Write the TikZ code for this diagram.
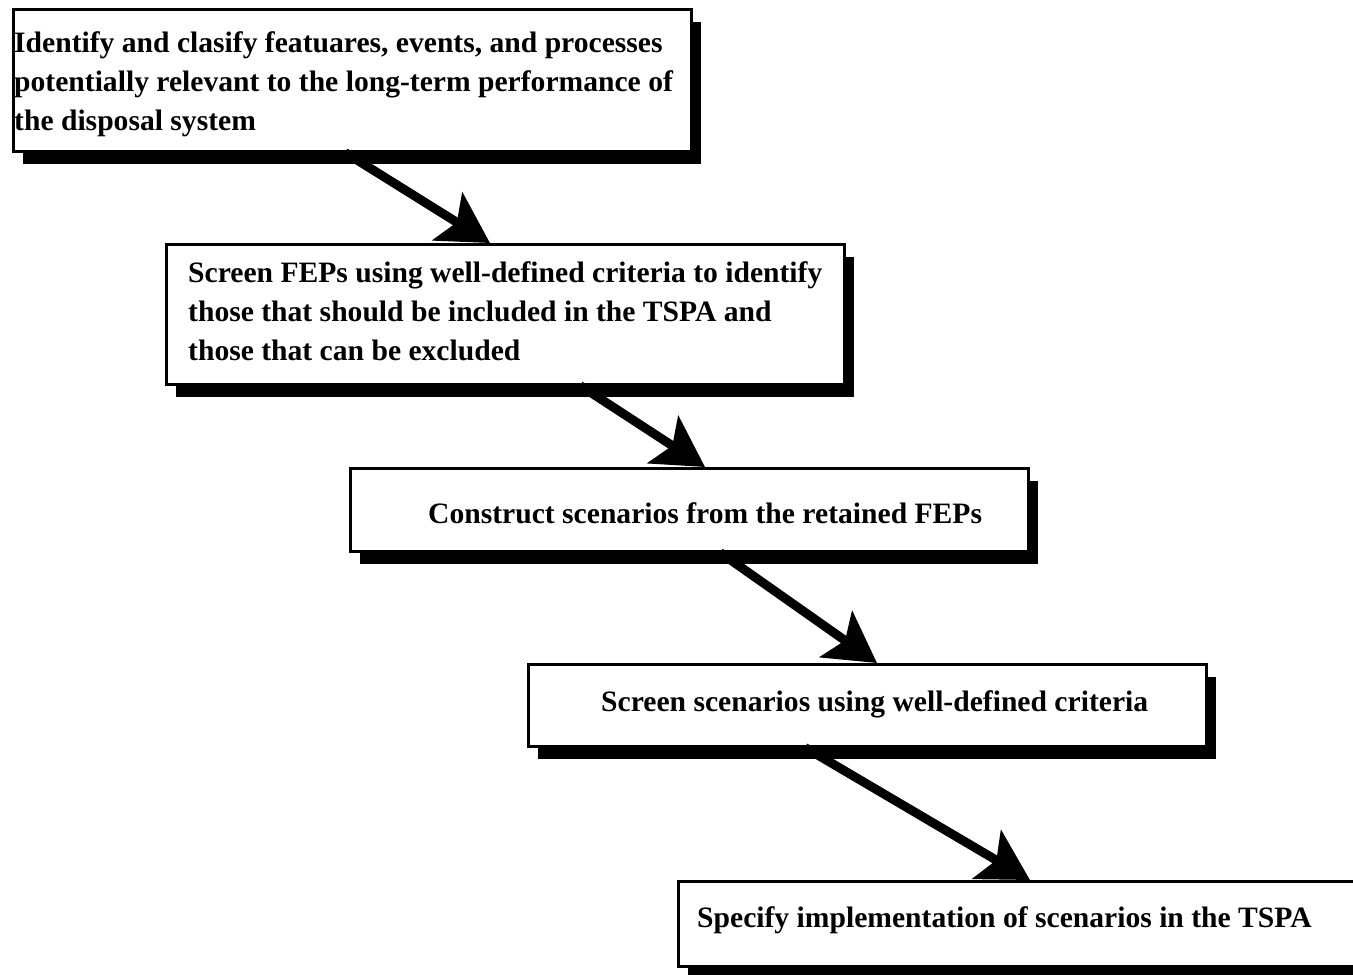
\documentclass[tikz,border=0pt]{standalone}
\usepackage{fontspec}
\setmainfont{Liberation Serif}
\usetikzlibrary{shadows,arrows.meta,calc}
\begin{document}
\begin{tikzpicture}[x=1pt,y=-1pt,
  box/.style={draw=black, line width=2.5pt, fill=white, minimum width=678pt, anchor=north west, inner sep=0pt,
    drop shadow={shadow xshift=10pt, shadow yshift=-13pt, opacity=1, fill=black}},
  lbl/.style={anchor=west, align=left, inner sep=0pt, font=\fontsize{29.6}{39}\selectfont\bfseries},
  flow/.style={line width=9pt, -{Stealth[length=50pt,width=56pt,inset=11pt]}}]
\useasboundingbox (0,0) rectangle (1353,975);
\clip (0,0) rectangle (1353,975);
\node[box, minimum height=142pt] (b1) at (12,8) {};
\node[box, minimum height=140pt] (b2) at (165,243) {};
\node[box, minimum height=83pt] (b3) at (349,467) {};
\node[box, minimum height=82pt] (b4) at (527,663) {};
\node[box, minimum height=85pt] (b5) at (677,880) {};
\node[lbl] (t1) at (14,84) {Identify and clasify featuares, events, and processes\\potentially relevant to the long-term performance of\\the disposal system};
\node[lbl] (t2) at (188,311) {Screen FEPs using well-defined criteria to identify\\those that should be included in the TSPA and\\those that can be excluded};
\node[lbl] (t3) at (428,513) {Construct scenarios from the retained FEPs};
\node[lbl] (t4) at (601,704) {Screen scenarios using well-defined criteria};
\node[lbl] (t5) at (697,920) {Specify implementation of scenarios in the TSPA};
\draw[flow] ($(b1.south west)+(333,0)$) -- ($(b2.north west)+(325,0)$);
\draw[flow] ($(b2.south west)+(415,0)$) -- ($(b3.north west)+(356,0)$);
\draw[flow] ($(b3.south west)+(371,0)$) -- ($(b4.north west)+(350,0)$);
\draw[flow] ($(b4.south west)+(278,0)$) -- ($(b5.north west)+(353,0)$);
\end{tikzpicture}
\end{document}
